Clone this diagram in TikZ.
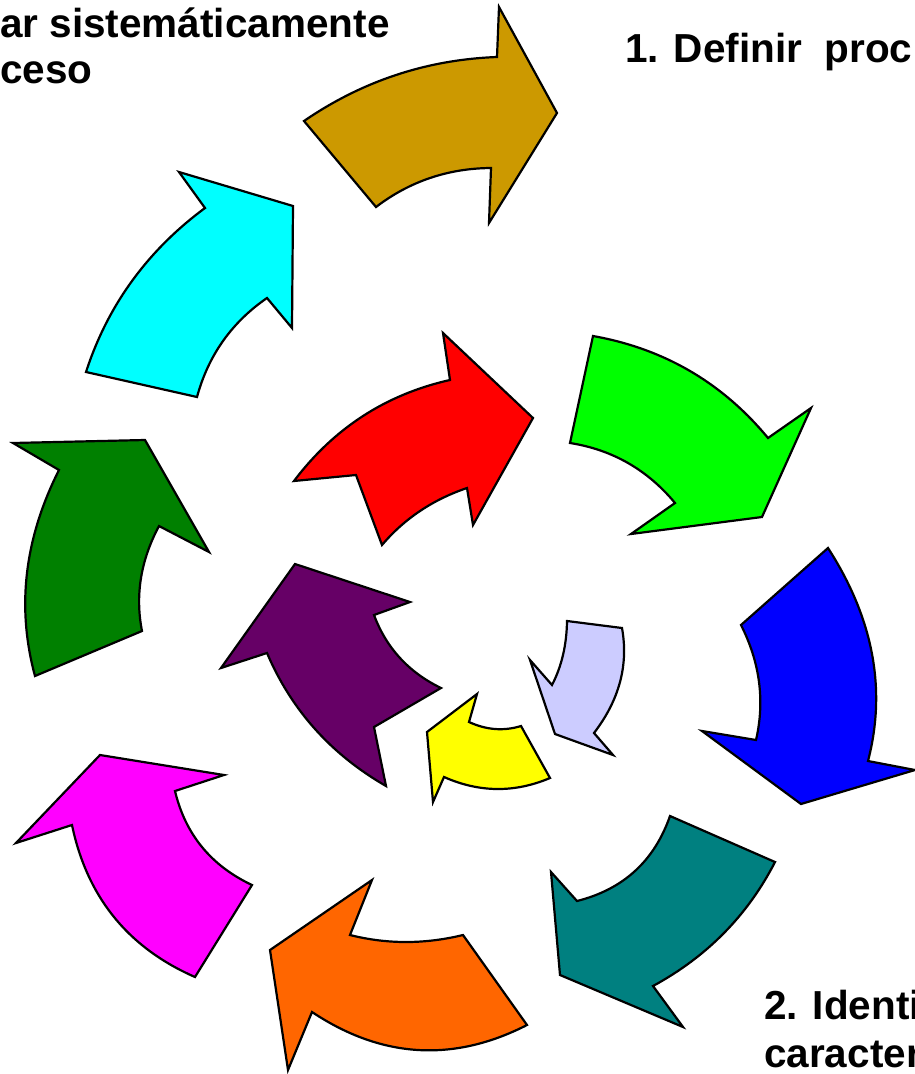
\documentclass[tikz,border=0pt]{standalone}
\usepackage{fontspec}
\setmainfont{Liberation Sans}
\def\arcvia(#1,#2)(#3,#4)(#5,#6){.. controls ({(4*#3-#5)/3},{(4*#4-#6)/3}) and ({(4*#3-#1)/3},{(4*#4-#2)/3}) .. (#5,#6)}
\definecolor{cgold}{HTML}{CC9900}
\definecolor{ccyan}{HTML}{00FFFF}
\definecolor{cdgreen}{HTML}{008000}
\definecolor{clgreen}{HTML}{00FF00}
\definecolor{cblue}{HTML}{0000FF}
\definecolor{cteal}{HTML}{008080}
\definecolor{corange}{HTML}{FF6600}
\definecolor{cmagenta}{HTML}{FF00FF}
\definecolor{cpurple}{HTML}{660066}
\definecolor{cyellow}{HTML}{FFFF00}
\definecolor{clav}{HTML}{CCCCFF}
\definecolor{cred}{HTML}{FF0000}
\tikzset{
  arrowshape/.style={draw=black, line width=2.2pt, line join=miter, fill=#1},
  label/.style={anchor=base west, inner sep=0pt, font=\fontsize{40.5}{48}\selectfont\bfseries}
}
\begin{document}
\begin{tikzpicture}[x=1pt,y=-1pt]
\useasboundingbox (0,0) rectangle (915,1074);
% outer ring
\path[arrowshape=cgold] (304,121) \arcvia(304,121)(396,75)(497,57) -- (499,7) -- (557,113) -- (489,223) -- (491,168) \arcvia(491,168)(430,178)(376,207) -- cycle;
\path[arrowshape=ccyan] (86,372) \arcvia(86,372)(132,281)(205,208) -- (179,172) -- (293,206) -- (292,328) -- (267,298) \arcvia(267,298)(223,341)(197,397) -- cycle;
\path[arrowshape=cdgreen] (35,676) \arcvia(35,676)(27,573)(59,470) -- (13,443) -- (145,440) -- (209,552) -- (159,526) \arcvia(159,526)(141,578)(142,631) -- cycle;
\path[arrowshape=cmagenta] (252,885) -- (195,977) \arcvia(195,977)(114,917)(72,825) -- (16,843) -- (100,755) -- (224,775) -- (175,791) \arcvia(175,791)(202,847)(252,885) -- cycle;
\path[arrowshape=corange] (463,935) -- (527,1025) \arcvia(527,1025)(418,1050)(312,1012) -- (288,1070) -- (270,950) -- (372,880) -- (350,935) \arcvia(350,935)(406,942)(463,935) -- cycle;
\path[arrowshape=cteal] (775,862) -- (670,816) \arcvia(670,816)(635,871)(577,901) -- (551,872) -- (560,975) -- (683,1027) -- (653,986) \arcvia(653,986)(724,933)(775,862) -- cycle;
\path[arrowshape=cblue] (828,548) -- (741,625) \arcvia(741,625)(759,682)(756,740) -- (702,731) -- (801,804) -- (915,770) -- (868,761) \arcvia(868,761)(872,654)(828,548) -- cycle;
% middle ring
\path[arrowshape=clgreen] (593,336) \arcvia(593,336)(690,371)(768,438) -- (811,408) -- (762,517) -- (631,534) -- (675,503) \arcvia(675,503)(628,463)(570,443) -- cycle;
\path[arrowshape=cred] (294,481) -- (356,475) -- (382,545) \arcvia(382,545)(420,511)(467,488) -- (473,525) -- (533,418) -- (443,333) -- (450,380) \arcvia(450,380)(363,416)(294,481) -- cycle;
\path[arrowshape=cpurple] (295,564) -- (410,602) -- (374,615) \arcvia(374,615)(400,658)(441,688) -- (374,727) -- (386,786) \arcvia(386,786)(315,729)(267,653) -- (221,668) -- cycle;
% inner ring
\path[arrowshape=cyellow] (521,726) -- (550,778) \arcvia(550,778)(497,789)(444,777) -- (433,802) -- (427,732) -- (477,694) -- (469,722) \arcvia(469,722)(495,729)(521,726) -- cycle;
\path[arrowshape=clav] (567,621) -- (622,628) \arcvia(622,628)(620,682)(594,733) -- (613,755) -- (555,734) -- (530,660) -- (552,685) \arcvia(552,685)(563,655)(567,621) -- cycle;
% texts
\node[label] (t1a) at (0,37) {ar sistemáticamente};
\node[label] (t1b) at (0,83) {ceso};
\node[label] (t2) at (625,62) {1. Definir\ \ proc};
\node[label] (t3a) at (764,1019) {2. Identi};
\node[label] (t3b) at (764,1067) {caracter};
\end{tikzpicture}
\end{document}
